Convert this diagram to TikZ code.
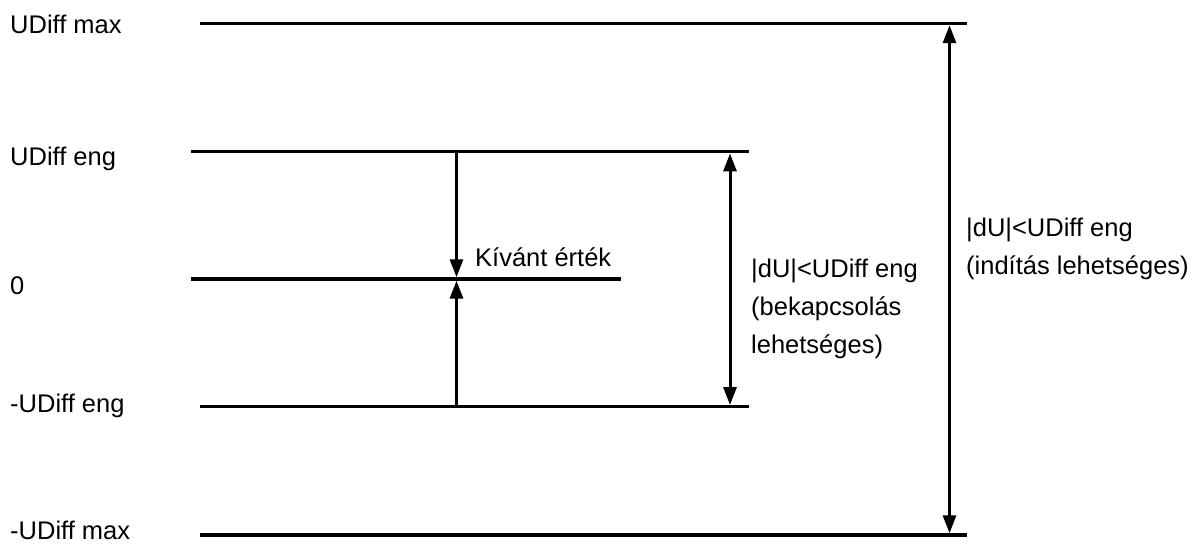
\documentclass[tikz,border=0pt]{standalone}
\usepackage{fontspec}
\setmainfont{Liberation Sans}
\usetikzlibrary{arrows.meta}
\begin{document}
\begin{tikzpicture}[x=1pt,y=-1pt,
  level/.style={line width=3.4pt},
  span/.style={line width=3pt,-{Triangle[width=13pt,length=18pt]}},
  spanboth/.style={line width=3pt,{Triangle[width=13pt,length=18pt]}-{Triangle[width=13pt,length=18pt]}},
  lbl/.style={anchor=base west,inner sep=0pt,font=\fontsize{25.5}{30}\selectfont}]
\useasboundingbox (0,0) rectangle (1196,544);
% level lines
\coordinate (maxL) at (200,23.5);   \coordinate (maxR) at (967,23.5);
\coordinate (engL) at (191,151.7);  \coordinate (engR) at (749,151.7);
\coordinate (zeroL) at (191,279);   \coordinate (zeroR) at (621,279);
\coordinate (nengL) at (200,406.7); \coordinate (nengR) at (749,406.7);
\coordinate (nmaxL) at (200,535);   \coordinate (nmaxR) at (967,535);
\draw[level] (maxL) -- (maxR);
\draw[level] (engL) -- (engR);
\draw[level] (zeroL) -- (zeroR);
\draw[level] (nengL) -- (nengR);
\draw[level] (nmaxL) -- (nmaxR);
% arrows towards the target value
\coordinate (kTop) at (456.5,153.2);
\coordinate (kMid1) at (456.5,277.3);
\coordinate (kMid2) at (456.5,280.7);
\coordinate (kBot) at (456.5,405);
\draw[span] (kTop) -- (kMid1);
\draw[span] (kBot) -- (kMid2);
% switch-on range
\coordinate (sTop) at (730,153.4);
\coordinate (sBot) at (730,405);
\draw[spanboth] (sTop) -- (sBot);
% start range
\coordinate (rTop) at (949.5,25.2);
\coordinate (rBot) at (949.5,533.3);
\draw[spanboth] (rTop) -- (rBot);
% labels
\node[lbl] (tmax) at (10,33) {UDiff max};
\node[lbl] (teng) at (10,165) {UDiff eng};
\node[lbl] (tzero) at (10,294) {0};
\node[lbl] (tneng) at (10,412.7) {-UDiff eng};
\node[lbl] (tnmax) at (10,539.5) {-UDiff max};
\node[lbl] (tk) at (475,266.5) {Kívánt érték};
\node[lbl] (s1) at (751,277) {|dU|<UDiff eng};
\node[lbl] (s2) at (751,315) {(bekapcsolás};
\node[lbl] (s3) at (751,353) {lehetséges)};
\node[lbl] (r1) at (966,236) {|dU|<UDiff eng};
\node[lbl] (r2) at (966,274) {(indítás lehetséges)};
\end{tikzpicture}
\end{document}
